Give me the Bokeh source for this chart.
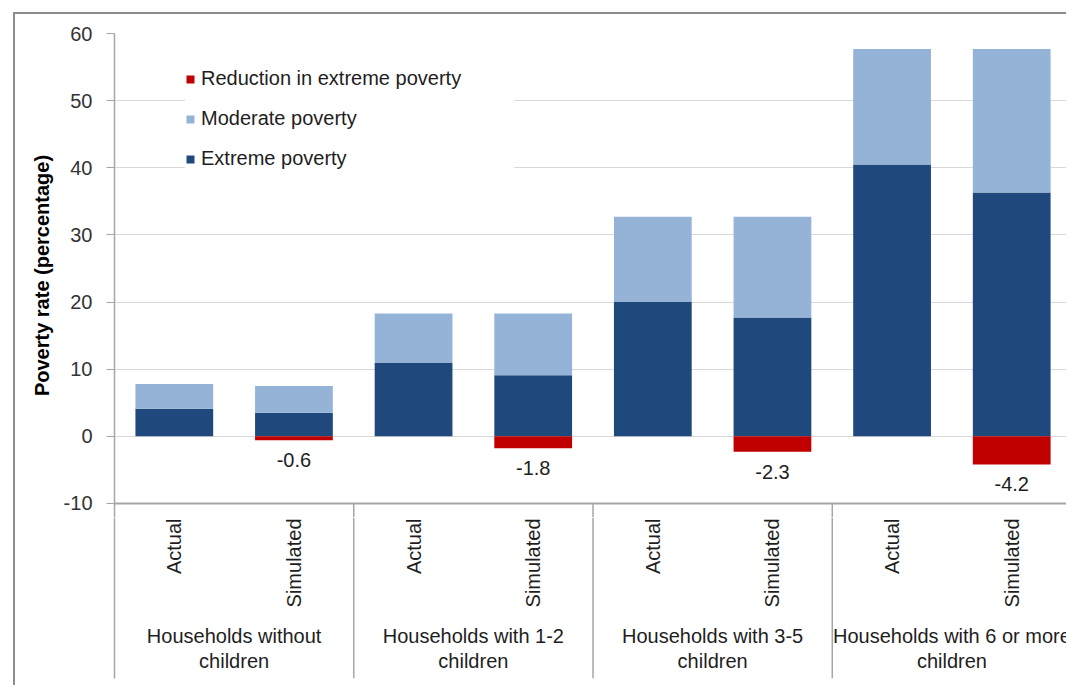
import math
from bokeh.plotting import figure
from bokeh.layouts import column
from bokeh.models import (ColumnDataSource, Range1d, FixedTicker, Span,
                          Legend, LegendItem)
from bokeh.core.properties import value
from bokeh.embed import file_html
from bokeh.resources import INLINE

# ---- data ----
groups_line1 = ["Households without", "Households with 1-2", "Households with 3-5", "Households with 6 or more"]
groups_line2 = ["children", "children", "children", "children"]
scenarios = ["Actual", "Simulated"]
extreme_actual = [4.1, 10.9, 20.0, 40.5]
moderate_actual = [3.7, 7.4, 12.7, 17.2]
extreme_simulated = [3.5, 9.1, 17.7, 36.3]
moderate_simulated = [4.0, 9.2, 15.0, 21.4]
reduction_extreme = [-0.6, -1.8, -2.3, -4.2]
y_ticks = [-10, 0, 10, 20, 30, 40, 50, 60]

FONT = "Liberation Sans"
FS = "20px"
TXT = "#1e1e1e"
C_EXT = "#1F497D"
C_MOD = "#95B3D7"
C_RED = "#C00000"
C_AX = "#a6a6a6"

n_groups = len(groups_line1)
n_sub = len(scenarios)

xs, ext_top, tot_top, sub_labels = [], [], [], []
for g in range(n_groups):
    for s, sc in enumerate(scenarios):
        xs.append(g * n_sub + s + 0.5)
        e = extreme_actual[g] if s == 0 else extreme_simulated[g]
        m = moderate_actual[g] if s == 0 else moderate_simulated[g]
        ext_top.append(e)
        tot_top.append(e + m)
        sub_labels.append(sc)

src = ColumnDataSource(dict(x=xs, ext=ext_top, tot=tot_top, zero=[0] * len(xs), lab=sub_labels))
red_src = ColumnDataSource(dict(x=[g * n_sub + 1.5 for g in range(n_groups)], v=reduction_extreme,
                                zero=[0] * n_groups, txt=["%.1f" % v for v in reduction_extreme]))
grp_src = ColumnDataSource(dict(x=[g * n_sub + n_sub / 2 for g in range(n_groups)],
                                l1=groups_line1, l2=groups_line2))

x_range = Range1d(0, 7.958)
y_low = -12.1
sep_x = [g * n_sub for g in range(1, n_groups + 1)]

# ---------- main plot ----------
p = figure(width=1051, height=503, output_backend="svg", toolbar_location=None,
           x_range=x_range, y_range=Range1d(y_low, 60),
           x_axis_location=None, min_border_left=99, min_border_right=0,
           min_border_top=19, min_border_bottom=0)
p.outline_line_color = None
p.background_fill_color = "white"
p.border_fill_color = "white"

p.xgrid.visible = False
p.ygrid.ticker = FixedTicker(ticks=[t for t in y_ticks if t >= 0])
p.ygrid.grid_line_color = "#d9d9d9"
p.ygrid.grid_line_width = 1
p.add_layout(Span(location=y_ticks[0], dimension="width", line_color=C_AX, line_width=2))
p.segment(x0=sep_x, x1=sep_x, y0=[y_ticks[0]] * len(sep_x), y1=[y_low] * len(sep_x),
          line_color=C_AX, line_width=1.5)

ax = p.yaxis[0]
ax.ticker = FixedTicker(ticks=y_ticks)
ax.major_label_overrides = {t: str(t) for t in y_ticks}
ax.axis_line_color = C_AX
ax.axis_line_width = 1.5
ax.major_tick_line_color = C_AX
ax.major_tick_out = 8
ax.major_tick_in = 0
ax.minor_tick_line_color = None
ax.major_label_standoff = 14
ax.major_label_text_font = FONT
ax.major_label_text_font_size = FS
ax.major_label_text_color = "#333333"
ax.axis_label = "Poverty rate (percentage)"
ax.axis_label_text_font = FONT
ax.axis_label_text_font_size = FS
ax.axis_label_text_font_style = "bold"
ax.axis_label_text_color = "black"
ax.axis_label_standoff = 8

W = 0.65
r_ext = p.vbar(x="x", bottom="zero", top="ext", width=W, source=src, fill_color=C_EXT, line_color=None)
r_mod = p.vbar(x="x", bottom="ext", top="tot", width=W, source=src, fill_color=C_MOD, line_color=None)
r_red = p.vbar(x="x", bottom="v", top="zero", width=W, source=red_src, fill_color=C_RED, line_color=None)

p.text(x="x", y="v", text="txt", source=red_src, y_offset=13, text_align="center",
       text_baseline="top", text_font=value(FONT), text_font_size=FS, text_color=TXT)

legend = Legend(items=[LegendItem(label="Reduction in extreme poverty", renderers=[r_red]),
                       LegendItem(label="Moderate poverty", renderers=[r_mod]),
                       LegendItem(label="Extreme poverty", renderers=[r_ext])],
                location=(71, 347), background_fill_color="white", background_fill_alpha=1,
                border_line_color=None, glyph_width=10, glyph_height=10, label_height=22,
                spacing=17, padding=10, margin=0, label_standoff=6, label_width=313,
                label_text_font=FONT, label_text_font_size=FS, label_text_color=TXT)
p.add_layout(legend, "center")

# ---------- category axis area ----------
q = figure(width=1051, height=168, output_backend="svg", toolbar_location=None,
           x_range=x_range, y_range=Range1d(0, 1),
           x_axis_location=None, min_border_left=99, min_border_right=0,
           min_border_top=0, min_border_bottom=7)
q.outline_line_color = None
q.grid.visible = False
q.border_fill_color = "white"
qa = q.yaxis[0]
qa.ticker = FixedTicker(ticks=[])
qa.axis_line_color = C_AX
qa.axis_line_width = 1.5
qa.major_tick_line_color = None
qa.minor_tick_line_color = None

q.segment(x0=sep_x, x1=sep_x, y0=[0] * len(sep_x), y1=[1] * len(sep_x),
          line_color=C_AX, line_width=1.5)

q.text(x="x", y=1, text="lab", source=src, angle=math.pi / 2, y_offset=1,
       text_align="right", text_baseline="middle", text_font=value(FONT),
       text_font_size=FS, text_color=TXT)
q.text(x="x", y=1, text="l1", source=grp_src, y_offset=118, text_align="center",
       text_baseline="middle", text_font=value(FONT), text_font_size=FS, text_color=TXT)
q.text(x="x", y=1, text="l2", source=grp_src, y_offset=143, text_align="center",
       text_baseline="middle", text_font=value(FONT), text_font_size=FS, text_color=TXT)

layout = column(p, q, spacing=0, margin=(12, 0, 0, 13),
                styles={"border-left": "2px solid #8c8c8c", "border-top": "2px solid #8c8c8c",
                        "background-color": "white"})

open("out.html", "w").write(file_html(layout, INLINE))
